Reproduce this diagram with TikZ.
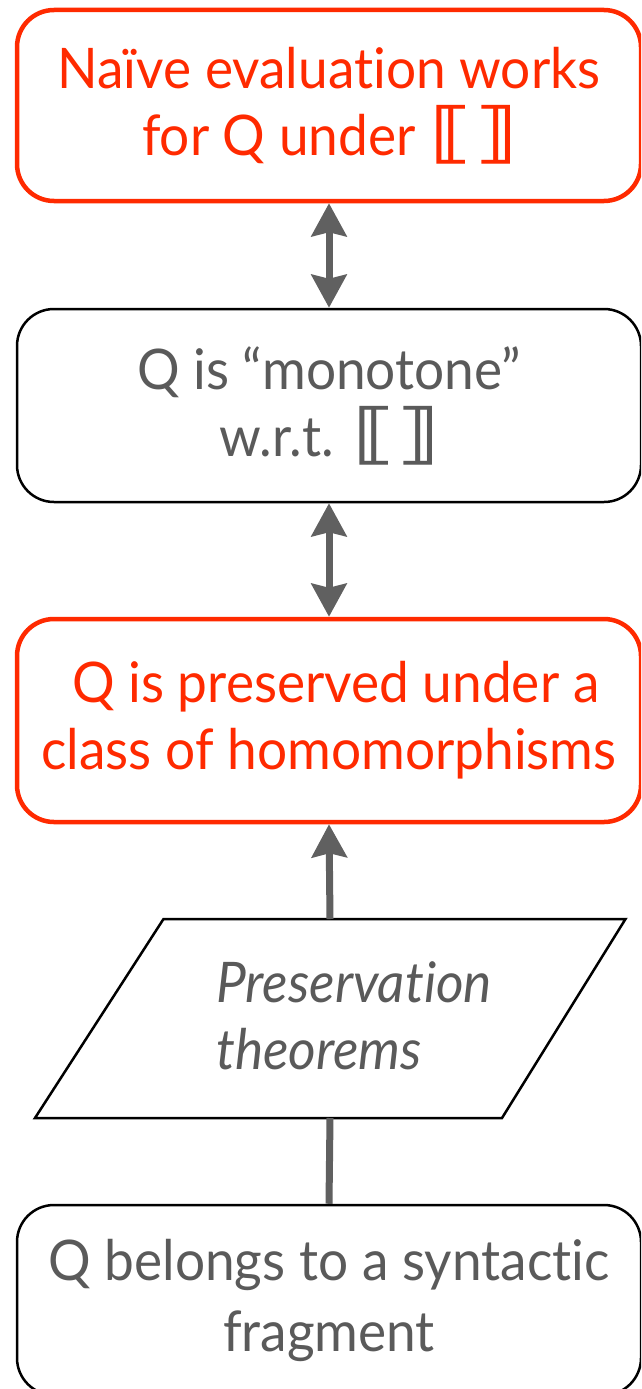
\documentclass[tikz,border=0pt]{standalone}
\usepackage{fontspec}
\setmainfont[Ligatures=NoCommon, FakeStretch=0.95]{Lato}
\newfontfamily\brkfont{DejaVu Sans}
\usetikzlibrary{arrows.meta}
\definecolor{hired}{RGB}{255,42,0}
\definecolor{txtgray}{RGB}{90,90,90}
\definecolor{arrgray}{RGB}{96,96,96}
% semantic brackets
\newcommand{\semb}{{\brkfont\bfseries\fontsize{66}{67}\selectfont
  \scalebox{1.3}[1]{⟦}\hspace{3pt}\scalebox{1.3}[1]{⟧}}}
\begin{document}
\begin{tikzpicture}[x=1pt,y=-1pt,
  box/.style={draw, rounded corners=37pt, minimum width=624pt, minimum height=#1,
    inner sep=0pt, align=center, font=\fontsize{56}{67}\selectfont},
  keybox/.style={box=#1, draw=hired, line width=4.5pt, text=hired},
  plainbox/.style={box=#1, draw=black, line width=2.5pt, text=txtgray},
  conn/.style={draw=arrgray, line width=7pt},
  tip/.tip={Stealth[length=33pt,width=35pt,inset=4pt]}]
\useasboundingbox (0,0) rectangle (641,1389);
\clip (0,0) rectangle (641,1389);

\node[keybox=191pt] (naive) at (329,105.5) {Naïve evaluation works\\for Q under \semb};
\node[plainbox=193pt] (mono) at (329,405.5) {Q is “monotone”\\w.r.t. \semb};
\node[keybox=203pt] (pres) at (329,720.5) {\ Q is preserved under a\\class of homomorphisms};
\node[plainbox=190pt, font=\fontsize{56}{71}\selectfont] (frag) at (329,1300) {Q belongs to a syntactic\\fragment};

% parallelogram for the theorems step
\coordinate (ptop) at (330,919);
\coordinate (pbot) at (330,1118);
\draw[line width=2.5pt, line join=miter] (163.5,919) -- (625.5,919) -- (502,1118) -- (35,1118) -- cycle;
\node[anchor=west, align=left, inner sep=0pt, text=txtgray,
  font=\fontsize{56}{67}\selectfont\itshape] (thm) at (216,1016) {Preservation\\theorems};

\draw[conn, tip-tip] (naive.south) -- (mono.north);
\draw[conn, tip-tip] (mono.south) -- (pres.north);
\draw[conn, -tip] (ptop) -- (pres.south);
\draw[conn] (frag.north) -- (pbot);
\end{tikzpicture}
\end{document}
